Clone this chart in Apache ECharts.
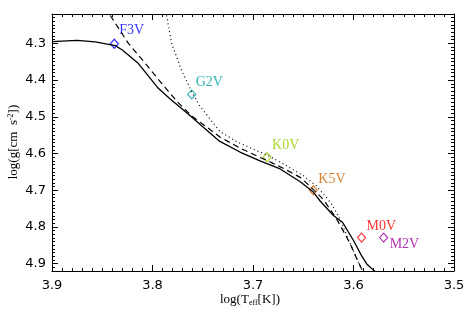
<!DOCTYPE html>
<html>
<head>
<meta charset="utf-8">
<script src="https://cdn.jsdelivr.net/npm/echarts@6.0.0/dist/echarts.min.js"></script>
</head>
<body style="margin:0; padding:0; background:#fff;">
<div id="chart" style="width:473px; height:323px;"></div>
<script type="text/javascript">
window.onerror = function (msg) {
	var d = document.createElement('div');
	d.style.cssText = 'position:absolute;left:60px;top:20px;font:10px sans-serif;color:#c00;';
	d.textContent = 'ERR: ' + msg;
	document.body.appendChild(d);
};

// ---- data: [log Teff, log g] ----
var solidTrack = [
	[3.900, 4.295], [3.875, 4.292], [3.857, 4.296], [3.837, 4.306], [3.830, 4.318],
	[3.814, 4.355], [3.795, 4.420], [3.783, 4.450], [3.763, 4.496], [3.750, 4.527],
	[3.733, 4.567], [3.713, 4.596], [3.693, 4.620], [3.673, 4.642], [3.653, 4.677],
	[3.640, 4.705], [3.633, 4.730], [3.620, 4.769], [3.611, 4.787], [3.600, 4.837],
	[3.592, 4.878], [3.587, 4.900], [3.582, 4.913], [3.577, 4.925]
];
var dashedTrack = [
	[3.842, 4.224], [3.824, 4.300], [3.807, 4.355], [3.790, 4.412], [3.775, 4.460],
	[3.760, 4.500], [3.745, 4.530], [3.733, 4.555], [3.713, 4.585], [3.696, 4.607],
	[3.686, 4.619], [3.670, 4.640], [3.653, 4.665], [3.643, 4.690], [3.630, 4.725],
	[3.617, 4.777], [3.604, 4.842], [3.595, 4.897], [3.590, 4.925]
];
var dottedTrack = [
	[3.786, 4.224], [3.781, 4.300], [3.771, 4.374], [3.761, 4.432], [3.753, 4.470],
	[3.743, 4.505], [3.733, 4.540], [3.716, 4.568], [3.700, 4.588], [3.686, 4.604],
	[3.670, 4.628], [3.650, 4.660], [3.637, 4.688], [3.623, 4.733], [3.615, 4.770],
	[3.604, 4.840], [3.595, 4.897], [3.590, 4.925]
];
var starNames = ['F3V', 'G2V', 'K0V', 'K5V', 'M0V', 'M2V'];
var starTeff = [3.838, 3.761, 3.686, 3.640, 3.592, 3.570];
var starLogg = [4.301, 4.439, 4.610, 4.700, 4.829, 4.829];

// styles
var starColors = ['#0000ff', '#00a0a0', '#99cc00', '#cc6600', '#ff0000', '#a000a0'];
var labelOffsets = [[5, -13], [4, -12], [5, -12], [5, -11], [5, -11], [6, 7]];

var serif = '"Liberation Serif", "DejaVu Serif", serif';
var sans = '"DejaVu Sans", "Liberation Sans", sans-serif';

function oneDecimal(v) {
	return Math.abs(v * 10 - Math.round(v * 10)) < 1e-6 ? v.toFixed(1) : '';
}
function tick() {
	return { show: true, inside: true, length: 6, lineStyle: { color: '#000', width: 1 } };
}
function minor() {
	return { show: true, splitNumber: 10, length: 3, lineStyle: { color: '#000', width: 1 } };
}
function line() {
	return { show: true, lineStyle: { color: '#000', width: 1 } };
}

var stars = starNames.map(function (n, i) {
	return {
		name: n,
		value: [starTeff[i], starLogg[i]],
		itemStyle: { color: 'rgba(0,0,0,0)', borderColor: starColors[i], borderWidth: 1.2 },
		label: {
			show: true, formatter: n, position: 'inside', align: 'left', verticalAlign: 'middle',
			offset: labelOffsets[i], color: starColors[i], fontFamily: serif, fontSize: 14
		}
	};
});

var nameRich = {
	a: { fontFamily: serif, fontSize: 13, fill: '#000', color: '#000' },
	s: { fontFamily: serif, fontSize: 8, fill: '#000', color: '#000', padding: [6, 0, 0, 0] },
	p: { fontFamily: serif, fontSize: 8, fill: '#000', color: '#000', padding: [0, 0, 6, 0] }
};

var option = {
	animation: false,
	grid: { left: 52, right: 19, top: 14, bottom: 52, outerBoundsMode: 'none' },
	xAxis: [
		{
			type: 'value', inverse: true, min: 3.5, max: 3.9, interval: 0.1,
			position: 'bottom',
			axisLine: line(), axisTick: tick(), minorTick: minor(), splitLine: { show: false },
			axisLabel: { show: true, margin: 8, color: '#000', fontFamily: sans, fontSize: 13,
				formatter: oneDecimal }
		},
		{
			type: 'value', inverse: true, min: 3.5, max: 3.9, interval: 0.1,
			position: 'top',
			axisLine: line(), axisTick: tick(), minorTick: minor(), splitLine: { show: false },
			axisLabel: { show: false }
		}
	],
	yAxis: [
		{
			type: 'value', inverse: true, min: 4.22, max: 4.92, splitNumber: 7,
			position: 'left',
			axisLine: line(), axisTick: tick(), minorTick: minor(), splitLine: { show: false },
			axisLabel: { show: true, margin: 6, color: '#000', fontFamily: sans, fontSize: 13,
				formatter: oneDecimal }
		},
		{
			type: 'value', inverse: true, min: 4.22, max: 4.92, splitNumber: 7,
			position: 'right',
			axisLine: line(), axisTick: tick(), minorTick: minor(), splitLine: { show: false },
			axisLabel: { show: false }
		}
	],
	graphic: [
		{
			type: 'text', x: 250, y: 300,
			style: { text: '{a|log(T}{s|eff}{a|[K])}', rich: nameRich, align: 'center', verticalAlign: 'middle' }
		},
		{
			type: 'text', x: 14, y: 142, rotation: Math.PI / 2,
			style: { text: '{a|log(g[cm  s}{p|-2}{a|])}', rich: nameRich, align: 'center', verticalAlign: 'middle' }
		}
	],
	series: [
		{
			type: 'line', data: solidTrack, showSymbol: false,
			lineStyle: { color: '#000', width: 1.3, type: 'solid' }
		},
		{
			type: 'line', data: dashedTrack, showSymbol: false,
			lineStyle: { color: '#000', width: 1.2, type: [6, 4] }
		},
		{
			type: 'line', data: dottedTrack, showSymbol: false,
			lineStyle: { color: '#000', width: 1.2, type: [1, 3] }
		},
		{
			type: 'scatter', symbol: 'diamond', symbolSize: [8, 9], data: stars, clip: false
		}
	]
};

var myChart = echarts.init(document.getElementById('chart'));
myChart.setOption(option);
window.onresize = function () { myChart.resize(); };
</script>
</body>
</html>
